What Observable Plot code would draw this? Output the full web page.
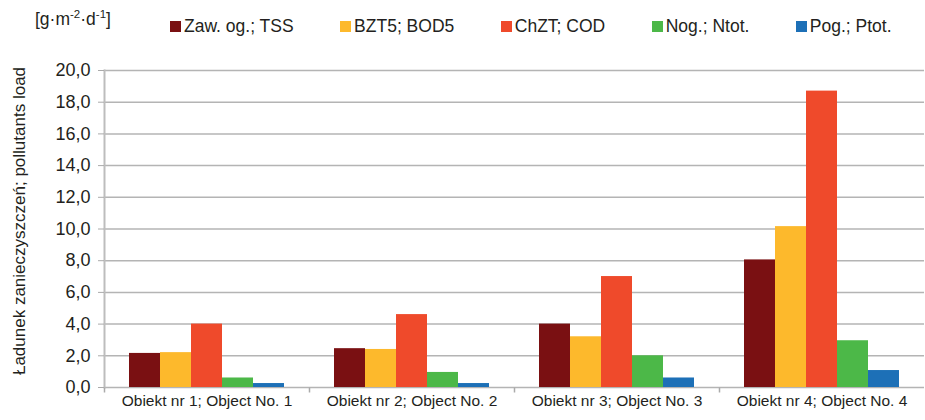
<!DOCTYPE html>
<html>
<head>
<meta charset="utf-8">
<script src="https://cdn.jsdelivr.net/npm/d3@7"></script>
<script src="https://cdn.jsdelivr.net/npm/@observablehq/plot@0.6"></script>
<style>
  html, body { margin: 0; padding: 0; background: #fff; }
  #wrap { position: relative; width: 925px; height: 420px; font-family: "Liberation Sans", Arial, sans-serif; color: #231f20; overflow: hidden; }
  #unit { position: absolute; left: 35px; top: 9px; font-size: 17.5px; line-height: 20px; white-space: nowrap; }
  #unit .sup { font-size: 11.5px; position: relative; top: -7.5px; }
  #legend { position: absolute; left: 170px; top: 16px; font-size: 17.5px; line-height: 20px; white-space: nowrap; display: flex; align-items: baseline; }
  #legend .item { display: inline-flex; align-items: baseline; margin-right: 46.5px; }
  #legend .sw { display: inline-block; width: 11px; height: 11px; margin-right: 3px; }
  #ylabel { position: absolute; left: -180px; top: 211px; width: 400px; height: 20px; line-height: 20px; font-size: 17px; text-align: center; transform: rotate(-90deg); white-space: nowrap; }
  #chart { position: absolute; left: 0; top: 50px; }
</style>
</head>
<body>
<div id="wrap">
  <div id="unit">[g·m<span class="sup">-2</span>·d<span class="sup">-1</span>]</div>
  <div id="legend"></div>
  <div id="ylabel">Ładunek zanieczyszczeń; pollutants load</div>
  <div id="chart"></div>
</div>
<script>
const groups = ["Obiekt nr 1; Object No. 1", "Obiekt nr 2; Object No. 2", "Obiekt nr 3; Object No. 3", "Obiekt nr 4; Object No. 4"];
const series = ["Zaw. og.; TSS", "BZT5; BOD5", "ChZT; COD", "Nog.; Ntot.", "Pog.; Ptot."];
const colors = ["#7a1012", "#fdb92c", "#ef4a2b", "#4cb848", "#1d70b7"];
const tss  = [2.15, 2.45, 4.0, 8.05];
const bod5 = [2.2, 2.4, 3.2, 10.15];
const cod  = [4.0, 4.6, 7.0, 18.7];
const ntot = [0.6, 0.95, 2.0, 2.95];
const ptot = [0.25, 0.25, 0.6, 1.07];
const yTicks = [0, 2, 4, 6, 8, 10, 12, 14, 16, 18, 20];

const values = [tss, bod5, cod, ntot, ptot];
const rows = groups.flatMap((g, i) => series.map((s, j) => ({group: g, series: s, value: values[j][i]})));

// legend
const legend = document.getElementById("legend");
series.forEach((s, j) => {
  const it = document.createElement("span");
  it.className = "item";
  const sw = document.createElement("span");
  sw.className = "sw";
  sw.style.background = colors[j];
  it.appendChild(sw);
  it.appendChild(document.createTextNode(s));
  legend.appendChild(it);
});

const fmt = d => d.toFixed(1).replace(".", ",");
const tickDown = {draw(ctx) { ctx.moveTo(0, 0); ctx.lineTo(0, 5); }};

const chart = Plot.plot({
  width: 925,
  height: 370,
  marginTop: 20,
  marginBottom: 33,
  marginLeft: 103,
  marginRight: 0,
  style: {fontFamily: '"Liberation Sans", Arial, sans-serif', fontSize: "15.5px", color: "#231f20", background: "transparent", overflow: "visible"},
  fx: {domain: groups, padding: 0, label: null},
  x: {domain: series, paddingInner: 0, paddingOuter: 0.72, axis: null},
  y: {domain: [0, 20], axis: null},
  color: {domain: series, range: colors},
  marks: [
    Plot.ruleY(yTicks, {stroke: "#b4b4b4", strokeWidth: 1.5}),
    Plot.frame({anchor: "left", facet: "super", stroke: "#bdbdbd", strokeWidth: 2}),
    Plot.barY(rows, {fx: "group", x: "series", y: "value", fill: "series", inset: 0}),
    Plot.axisY(yTicks, {tickSize: 6, tickPadding: 8, tickFormat: fmt, fontSize: 18, stroke: "#aaa", label: null}),
    Plot.axisFx({anchor: "bottom", tickSize: 0, tickPadding: 7, label: null, fontSize: 15.5}),
    Plot.dot([0], {frameAnchor: "bottom-left", symbol: tickDown, stroke: "#aaa", strokeWidth: 1.5, fill: "none"})
  ]
});
document.getElementById("chart").appendChild(chart);
</script>
</body>
</html>
